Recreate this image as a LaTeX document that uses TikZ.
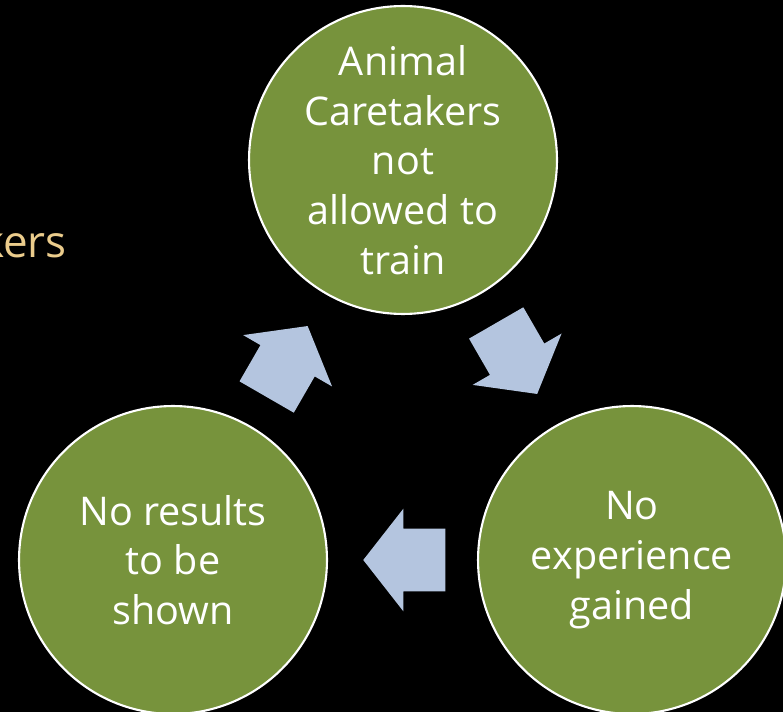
\documentclass[tikz,border=0pt]{standalone}
\usepackage{fontspec}
\setmainfont{Open Sans}
\usetikzlibrary{shapes.arrows,calc}

\definecolor{stagegreen}{RGB}{119,147,60}
\definecolor{arrowblue}{RGB}{180,197,223}
\definecolor{titletan}{RGB}{235,204,140}

\tikzset{
  stage/.style={circle,draw=white,line width=1.2pt,fill=stagegreen,
    minimum size=6.16cm,inner sep=0pt},
  stagetext/.style={text=white,align=center,
    font=\fontsize{22.5}{28.3}\selectfont},
  cyclearrow/.style={single arrow,fill=arrowblue,draw=none,
    inner xsep=0pt,inner ysep=0.62cm,
    minimum height=1.64cm,minimum width=2.04cm,
    single arrow head extend=0.4cm,single arrow tip angle=104},
}

\begin{document}
\begin{tikzpicture}[x=0.02cm,y=-0.02cm]

  \fill[black] (0,0) rectangle (783,712);
  \clip (0,0) rectangle (783,712);

  \node[anchor=base east,text=titletan,font=\fontsize{25}{30}\selectfont] (title) at (73,258) {kers};

  \node[stage,label={[stagetext]center:Animal\\Caretakers\\not\\allowed to\\train}] (top) at (403,160) {};
  \node[stage,label={[stagetext]center:No\\experience\\gained}] (right) at (632,560) {};
  \node[stage,label={[stagetext]center:No results\\to be\\shown}] (left) at (173,560) {};

  % arrows sit a bit back from the midpoints
  \node[cyclearrow,rotate=-60] (toright) at ($(top)!0.5!(right)!0.28cm!(top)$) {};
  \node[cyclearrow,rotate=180] (toleft) at ($(right)!0.5!(left)!0.28cm!(right)$) {};
  \node[cyclearrow,rotate=60] (totop) at ($(left)!0.5!(top)!0.28cm!(left)$) {};

\end{tikzpicture}
\end{document}
